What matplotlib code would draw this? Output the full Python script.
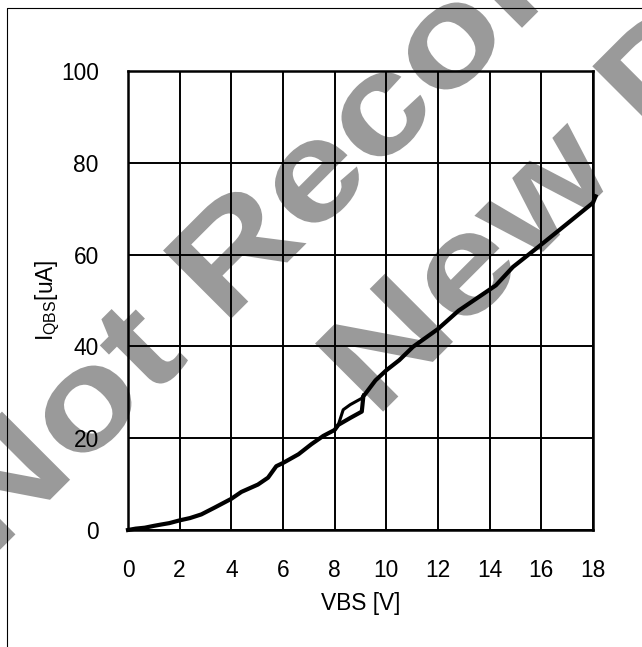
import numpy as np
import matplotlib
matplotlib.use('Agg')
from matplotlib import pyplot as plt
from matplotlib.lines import Line2D
from matplotlib.textpath import TextPath
from matplotlib.patches import PathPatch
from matplotlib.font_manager import FontProperties
from matplotlib.transforms import Affine2D

plt.rcParams['font.family'] = ['Liberation Sans', 'DejaVu Sans']

# VBS sweep (rising), includes the jump near 9 V
vbs = [0, 0.3, 0.65, 1.0, 1.29, 1.6, 2.0, 2.4, 2.84, 3.36, 4.0, 4.39, 5.03, 5.42,
       5.74, 6.0, 6.6, 7.1, 7.56, 8.0, 8.14, 8.6, 9.05, 9.11, 9.58, 10.0, 10.5,
       11.03, 12.0, 12.8, 14.24, 14.9, 16.0, 16.97, 18.0, 18.1]
iqbs = [0, 0.3, 0.5, 0.9, 1.2, 1.5, 2.1, 2.6, 3.4, 4.9, 6.8, 8.3, 9.9, 11.4,
        13.9, 14.6, 16.5, 18.7, 20.5, 21.8, 22.9, 24.4, 25.8, 29.1, 32.6, 34.8, 37.0,
        39.9, 43.8, 47.8, 53.3, 57.3, 62.2, 66.6, 71.3, 72.7]

# falling sweep, the part that splits off between 8 and 9 V
vbs_ret = [8.0, 8.14, 8.33, 8.6, 9.05, 9.11]
iqbs_ret = [21.8, 22.9, 26.2, 27.3, 28.7, 29.4]

xticks = np.arange(0, 19, 2)
yticks = np.arange(0, 101, 20)

W, H = 642, 647
fig = plt.figure(figsize=(W/100, H/100), dpi=100)

# watermark, drawn as stretched text paths (pixel coords, from top-left)
fp = FontProperties(family='Liberation Sans', weight='bold')
wm_lines = [('Not Recommended For', -7.7, 557.5),
            ('New Designs', 375.2, 419.6)]
for txt, x0, y0 in wm_lines:
    tp = TextPath((0, 0), txt, size=1, prop=fp)
    tr = Affine2D().scale(168, 140).rotate_deg(45).translate(x0, H - y0)
    fig.add_artist(PathPatch(tp, transform=tr, facecolor='#9a9a9a',
                             edgecolor='none', zorder=0))

# frame round the figure
fig.add_artist(Line2D([7/W, 7/W, 1.0], [0, 1-7.5/H, 1-7.5/H],
                      transform=fig.transFigure, color='black', lw=0.8, zorder=1))

ax = fig.add_axes([128/W, 1-530/H, (593-128)/W, (530-71)/H])
ax.set_facecolor('none')
ax.set_zorder(2)

ax.plot(vbs, iqbs, color='black', lw=3, clip_on=False, zorder=3)
ax.plot(vbs_ret, iqbs_ret, color='black', lw=2.2, zorder=3)

ax.set_xlim(0, 18)
ax.set_ylim(0, 100)
ax.set_xticks(xticks)
ax.set_yticks(yticks)
ax.grid(True, color='black', lw=1.4)
for s in ax.spines.values():
    s.set_linewidth(1.8)
ax.tick_params(length=0, pad=21, labelsize=16.4)

ax.set_xlabel('VBS [V]', fontsize=16.4, labelpad=7)
ax.set_ylabel(r'$\mathregular{I_{QBS}}$[uA]', fontsize=16.4, labelpad=-1)

plt.savefig('out.png', dpi=100)
